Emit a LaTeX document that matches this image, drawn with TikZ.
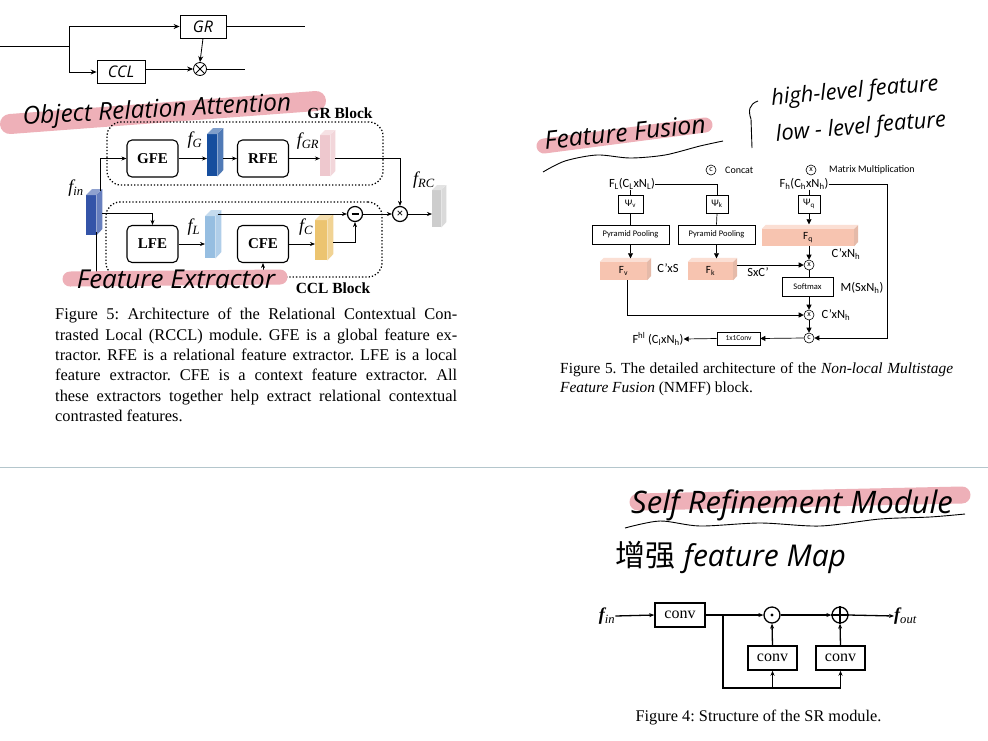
\documentclass[tikz,border=0pt]{standalone}
\usepackage{fontspec}
\setmainfont{Liberation Serif}
\newfontfamily\calib{Carlito}
\newfontfamily\hand{Open Sans}
\newfontfamily\cjk{Noto Sans CJK SC}
\usetikzlibrary{arrows.meta,calc}
\frenchspacing
\definecolor{hl}{RGB}{238,176,184}
\definecolor{sepc}{RGB}{180,198,204}
\definecolor{cfin}{RGB}{52,84,168}
\definecolor{cfg}{RGB}{22,78,158}
\definecolor{cfgr}{RGB}{238,200,206}
\definecolor{cfl}{RGB}{150,190,225}
\definecolor{cfc}{RGB}{236,196,112}
\definecolor{cfrc}{RGB}{205,205,205}
\definecolor{peach}{RGB}{247,196,176}
\newcommand{\slab}[7]{%
  \node[fill=#7, minimum width=#4, minimum height=#5, inner sep=0pt, anchor=north west] (#1) at (#2,#3) {};
  \fill[#7!55!white] (#1.north west) -- ++(#6,-#6) -- ++(#4,0) -- (#1.north east) -- cycle;
  \fill[#7!75!white] (#1.north east) -- ++(#6,-#6) -- ++(0,#5) -- (#1.south east) -- cycle;
}
\newcommand{\cub}[6]{%
  \node[fill=peach, minimum width=#4, minimum height=#5, inner sep=0pt, font=\calib\fontsize{11}{12}\selectfont] (#1) at (#2,#3) {#6};
  \fill[peach!55!white] (#1.north west) -- ++(4,-4) -- ++(#4,0) -- (#1.north east) -- cycle;
  \fill[peach!85!gray] (#1.north east) -- ++(4,-4) -- ++(0,#5) -- (#1.south east) -- cycle;
}
\newcommand{\fl}[2]{{\itshape #1\textsubscript{#2}}}
\newcommand{\nsub}[1]{\textsubscript{#1}}
\begin{document}
\begin{tikzpicture}[x=1pt,y=-1pt,
  hbox/.style={draw, line width=0.8pt, inner sep=0pt, font=\hand\itshape\fontsize{16}{16}\selectfont},
  harr/.style={-{Stealth[length=6pt,width=5pt]}, line width=0.8pt},
  handtxt/.style={inner sep=0pt, font=\hand\itshape\fontsize{20}{20}\selectfont},
  hili/.style={draw=hl, line cap=round},
  blk/.style={draw, rounded corners=5pt, line width=1.1pt, minimum width=51pt, minimum height=37pt, inner sep=0pt, font=\bfseries\fontsize{15}{15}\selectfont},
  grpbox/.style={draw, dotted, line width=1.3pt, rounded corners=14pt, inner sep=0pt},
  arr/.style={-{Stealth[length=5pt,width=4pt]}, line width=0.6pt},
  opc/.style={circle, draw, line width=1.2pt, minimum size=15pt, inner sep=0pt, font=\bfseries\fontsize{12}{12}\selectfont},
  flab/.style={font=\fontsize{18}{18}\selectfont, inner sep=0pt},
  nmbox/.style={draw, line width=0.6pt, inner sep=0pt, font=\calib\fontsize{8.5}{9}\selectfont},
  nmtxt/.style={inner sep=0pt, font=\calib\fontsize{12.5}{13}\selectfont},
  nmarr/.style={-{Triangle[length=5pt,width=5pt]}, line width=0.7pt},
  nmop/.style={circle, draw, line width=0.6pt, minimum size=10pt, inner sep=0pt, font=\calib\fontsize{8}{8}\selectfont},
  srbox/.style={draw, line width=1.5pt, minimum width=50pt, minimum height=24pt, inner sep=0pt, font=\fontsize{16}{16}\selectfont},
  srarr/.style={-{Stealth[length=5pt,width=4pt]}, line width=1.3pt},
  srop/.style={circle, draw, line width=1.3pt, minimum size=16pt, inner sep=0pt}
]
\useasboundingbox (0,0) rectangle (988,740);
\fill[white] (0,0) rectangle (988,740);

% ---------- top-left handwritten sketch ----------
\coordinate (hin) at (0,46);
\coordinate (hj) at (69,46);
\node[hbox, minimum width=46pt, minimum height=23pt] (gr) at (203,26.5) {GR};
\node[hbox, minimum width=48pt, minimum height=23pt] (ccl) at (121,72) {CCL};
\node[circle, draw, line width=0.8pt, minimum size=13pt, inner sep=0pt] (hx) at (200,69) {};
\draw[line width=0.8pt] (hx.north west) -- (hx.south east) (hx.north east) -- (hx.south west);
\coordinate (grout) at (305,26.5);
\coordinate (hout) at (245,69);
\draw[line width=0.8pt] (hin) -- (hj);
\draw[harr] (hj) |- (gr.west);
\draw[harr] (hj) |- (ccl.west);
\draw[line width=0.8pt] (gr.east) -- (grout);
\draw[harr] (gr.south) -- (hx.north);
\draw[harr] (ccl.east |- hx) -- (hx.west);
\draw[line width=0.8pt] (hx.east) -- (hout);

% ---------- Object Relation Attention ----------
\draw[hili, line width=20pt] (10,124) -- (316,101);
\node[handtxt, rotate=3, font=\hand\itshape\fontsize{24.5}{24.5}\selectfont] (ora) at (157,111) {Object Relation Attention};

% ---------- RCCL diagram ----------
\node[grpbox, minimum width=276pt, minimum height=63pt] (grb) at (245,153.5) {};
\node[grpbox, minimum width=276pt, minimum height=75pt] (cclb) at (244,239.5) {};
\node[inner sep=0pt, font=\bfseries\fontsize{15.5}{16}\selectfont] (grl) at (340,113) {GR Block};
\node[inner sep=0pt, font=\bfseries\fontsize{15.5}{16}\selectfont] (ccll) at (333,288) {CCL Block};
\node[blk] (gfe) at (152.5,158.5) {GFE};
\node[blk] (rfe) at (263,158.5) {RFE};
\node[blk] (lfe) at (152.5,244) {LFE};
\node[blk] (cfe) at (263,244) {CFE};
\slab{fin}{86}{195}{10}{40}{6}{cfin}
\slab{fg}{207}{134}{10}{42}{6}{cfg}
\slab{fgr}{320}{135}{10}{41}{5}{cfgr}
\slab{fl}{205}{216}{10}{42}{6}{cfl}
\slab{fc}{315}{220}{12}{40}{6}{cfc}
\slab{frc}{432}{190}{9}{37}{5}{cfrc}
\node[flab] (lfg) at (195,140) {\fl{f}{G}};
\node[flab] (lfgr) at (308,141) {\fl{f}{GR}};
\node[flab] (lfin) at (76,188) {\fl{f}{in}};
\node[flab] (lfl) at (194,227) {\fl{f}{L}};
\node[flab] (lfc) at (306,227) {\fl{f}{C}};
\node[flab] (lfrc) at (424,180) {\fl{f}{RC}};
\node[opc] (mul) at (400,214) {×};
\node[opc] (minus) at (355,214) {};
\draw[line width=1.3pt] ($(minus.center)+(-3.5,0)$) -- ($(minus.center)+(3.5,0)$);
\coordinate (fintop) at (100,191);
\coordinate (finmid) at (102,213);
\coordinate (finbot) at (96,232);
\draw[arr] (fintop) |- (gfe.west);
\draw[arr] (gfe.east) -- (gfe.east -| fg.west);
\draw[arr] (gfe.east -| fg.east) ++(6,0) -- (rfe.west);
\draw[arr] (rfe.east) -- (rfe.east -| fgr.west);
\draw[arr] (rfe.east -| fgr.east) ++(5,0) -| (mul.north);
\draw[arr] (finmid) -| (lfe.north);
\draw[arr] (lfe.east) -- (lfe.east -| fl.west);
\draw[arr] ($(fl.north east)+(3,-2)$) -- (minus.west);
\draw[arr] (cfe.east) -- (cfe.east -| fc.west);
\draw[arr] ($(fc.east)+(6,2)$) -| (minus.south);
\draw[arr] (minus.east) -- (mul.west);
\draw[arr] (mul.east) -- (mul.east -| frc.west);
\draw[arr] (finbot) |- ($(cfe.south)+(0,8)$) -- (cfe.south);

% ---------- Feature Extractor ----------
\draw[hili, line width=15pt] (70,279) -- (280,277);
\node[handtxt, font=\hand\itshape\fontsize{26}{26}\selectfont] (fex) at (176,279) {Feature Extractor};

% ---------- left caption ----------
\node[anchor=north west, inner sep=0pt] (capl) at (55,308) {\vbox{\fontsize{16.4}{20.4}\selectfont
 \hbox to 402pt{Figure 5: Architecture of the Relational Contextual Con-}
 \hbox to 402pt{trasted Local (RCCL) module. GFE is a global feature ex-}
 \hbox to 402pt{tractor. RFE is a relational feature extractor. LFE is a local}
 \hbox to 402pt{feature extractor. CFE is a context feature extractor. All}
 \hbox to 402pt{these extractors together help extract relational contextual}
 \hbox{contrasted features.}}};

% ---------- Feature Fusion notes ----------
\draw[hili, line width=15pt] (544,146) -- (705,125);
\node[handtxt, rotate=6, font=\hand\itshape\fontsize{25}{25}\selectfont] (ffu) at (625,132) {Feature Fusion};
\draw[line width=0.9pt] plot[smooth] coordinates {(543,172) (565,161) (597,155) (630,158) (665,155) (700,146) (723,141)};
\draw[line width=0.9pt] (758,101) .. controls (749,104) and (748,111) .. (751,119) -- (752,148);
\node[handtxt, rotate=5, font=\hand\itshape\fontsize{22}{22}\selectfont] (hlf) at (855,92) {high-level feature};
\node[handtxt, rotate=5, font=\hand\itshape\fontsize{22}{22}\selectfont] (llf) at (861,128) {low - level feature};

% ---------- NMFF diagram ----------
\node[nmop] (lc) at (711,170) {c};
\node[nmtxt, anchor=west, font=\calib\fontsize{10}{10}\selectfont] (lct) at (725,170) {Concat};
\node[nmop] (lx) at (811,170) {x};
\node[nmtxt, anchor=west, font=\calib\fontsize{10}{10}\selectfont] (lxt) at (829,170) {Matrix Multiplication};
\node[nmtxt] (FL) at (632,184) {F\nsub{L}(C\nsub{L}xN\nsub{L})};
\node[nmtxt] (FH) at (804,184) {F\nsub{h}(C\nsub{h}xN\nsub{h})};
\node[nmbox, minimum width=25pt, minimum height=18pt, font=\calib\fontsize{10}{10}\selectfont] (psiv) at (630.5,204) {Ψ\nsub{v}};
\node[nmbox, minimum width=22pt, minimum height=18pt, font=\calib\fontsize{10}{10}\selectfont] (psik) at (717,204) {Ψ\nsub{k}};
\node[nmbox, minimum width=22pt, minimum height=18pt, font=\calib\fontsize{10}{10}\selectfont] (psiq) at (809,204) {Ψ\nsub{q}};
\node[nmbox, minimum width=77pt, minimum height=19pt] (pp1) at (630.5,234.5) {Pyramid Pooling};
\node[nmbox, minimum width=77pt, minimum height=19pt] (pp2) at (716.5,234.5) {Pyramid Pooling};
\cub{Fv}{623.5}{271}{47}{18}{F\nsub{v}}
\cub{Fk}{710.5}{271}{45}{18}{F\nsub{k}}
\cub{Fq}{808}{237.5}{92}{17}{F\nsub{q}}
\node[nmtxt] (cxs) at (668,268) {C’xS};
\node[nmtxt] (sxc) at (758,272) {SxC’};
\node[nmtxt] (cxn1) at (846,254) {C’xN\nsub{h}};
\node[nmop] (m1) at (809,265) {x};
\node[nmbox, minimum width=51pt, minimum height=19pt] (soft) at (807.5,286.5) {Softmax};
\node[nmtxt] (msn) at (862,288) {M(SxN\nsub{h})};
\node[nmop] (m2) at (809,315) {x};
\node[nmtxt] (cxn2) at (836,315) {C’xN\nsub{h}};
\node[nmop] (cc) at (809,338) {c};
\node[nmbox, minimum width=43pt, minimum height=13pt, font=\calib\fontsize{7.5}{8}\selectfont] (conv1) at (738.5,338.5) {1x1Conv};
\node[nmtxt] (FHL) at (658,339) {F\textsuperscript{hl} (C\nsub{l}xN\nsub{h})};
\coordinate (rt) at (887,184);
\draw[line width=0.7pt] (psiv.north |- FL.south) -- (psiv.north);
\draw[line width=0.7pt] (FL.east) -| (psik.north);
\draw[line width=0.7pt] (psiv.south) -- (pp1.north);
\draw[line width=0.7pt] (psik.south) -- (pp2.north);
\draw[nmarr] (pp1.south) -- ++(0,14);
\draw[nmarr] (pp2.south) -- ++(0,14);
\draw[line width=0.7pt] (psiq.north |- FH.south) -- (psiq.north);
\draw[nmarr] (psiq.south) -- ++(0,11);
\draw[nmarr] (Fq.south -| m1) -- (m1.north);
\draw[nmarr] (Fk.east |- m1) ++(4,0) -- (m1.west);
\draw[line width=0.7pt] (m1.south) -- (soft.north -| m1);
\draw[nmarr] (soft.south -| m2) -- (m2.north);
\draw[nmarr] ($(Fv.south)+(4,0)$) |- (m2.west);
\draw[nmarr] (m2.south) -- (cc.north);
\draw[nmarr] (FH.east) -- (rt) |- (cc.east);
\draw[nmarr] (cc.west) -- (conv1.east);
\draw[nmarr] (conv1.west) -- (FHL.east);

% ---------- NMFF caption ----------
\node[anchor=north west, inner sep=0pt] (capr) at (560,362) {\vbox{\fontsize{15.4}{19}\selectfont
 \hbox to 393pt{Figure 5. The detailed architecture of the \textit{Non-local Multistage}}
 \hbox{\textit{Feature Fusion} (NMFF) block.}}};

% ---------- separator ----------
\draw[sepc, line width=1.5pt] (0,467.5) -- (988,467.5);

% ---------- Self Refinement Module ----------
\draw[hili, line width=17pt] (638,502) -- (962,495);
\node[handtxt, font=\hand\itshape\fontsize{31}{31}\selectfont] (srm) at (792,505) {Self Refinement Module};
\draw[line width=0.9pt] plot[smooth] coordinates {(625,528) (660,521) (700,526) (760,523) (820,526) (880,519) (930,517) (965,514)};
\node[handtxt, font=\hand\itshape\fontsize{30}{30}\selectfont] (efm) at (731,557) {{\cjk 增强} feature Map};

% ---------- SR module ----------
\node[inner sep=0pt, font=\fontsize{18}{18}\selectfont] (sfin) at (607,616) {{\bfseries\itshape f}\textsubscript{\itshape in}};
\node[srbox] (conv0) at (680,615) {conv};
\node[srop] (dot) at (772,615) {};
\fill (dot.center) circle (1.6pt);
\node[srop] (plus) at (840,615) {};
\draw[line width=1.3pt] (plus.north) -- (plus.south) (plus.west) -- (plus.east);
\node[srbox, minimum width=49pt] (conv2) at (772.5,658) {conv};
\node[srbox, minimum width=49pt] (conv3) at (840.5,658) {conv};
\node[inner sep=0pt, font=\fontsize{18}{18}\selectfont, anchor=west] (sfout) at (894,616) {{\bfseries\itshape f}\textsubscript{\itshape out}};
\coordinate (sj) at (723,615);
\coordinate (sb) at (723,688);
\draw[srarr] (sfin.east) -- (conv0.west);
\draw[srarr] (conv0.east) -- (dot.west);
\draw[line width=1.3pt] (sj) -- (sb) -- (sb -| conv3);
\draw[srarr] (sb -| conv2) -- (conv2.south);
\draw[srarr] (sb -| conv3) -- (conv3.south);
\draw[srarr] (conv2.north) -- (dot.south);
\draw[srarr] (conv3.north) -- (plus.south);
\draw[srarr] (dot.east) -- (plus.west);
\draw[srarr] (plus.east) -- (sfout.west);
\node[inner sep=0pt, font=\fontsize{16.3}{16}\selectfont] (capsr) at (758.5,718) {Figure 4: Structure of the SR module.};
\end{tikzpicture}
\end{document}
